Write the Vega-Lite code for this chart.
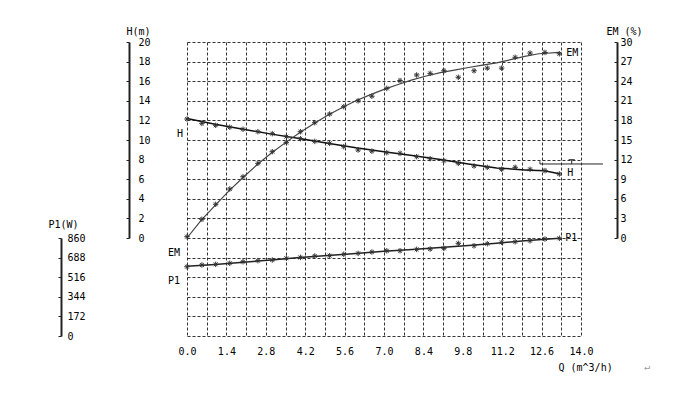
{
  "$schema": "https://vega.github.io/schema/vega-lite/v6.json",
  "width": 394,
  "height": 294,
  "autosize": "none",
  "padding": {"left": 187, "top": 42, "right": 94, "bottom": 68},
  "background": "white",
  "config": {
    "view": {"stroke": null},
    "font": "DejaVu Sans Mono",
    "axis": {"labelFont": "DejaVu Sans Mono", "labelFontSize": 10, "labelColor": "#000", "titleFont": "DejaVu Sans Mono", "titleFontSize": 10, "titleFontWeight": "normal", "titleColor": "#000"},
    "text": {"font": "DejaVu Sans Mono", "fontSize": 10}
  },
  "encoding": {
    "x": {"field": "Q", "type": "quantitative", "scale": {"domain": [0, 14], "nice": false, "zero": false},
      "axis": {"values": [0, 0.7, 1.4, 2.1, 2.8, 3.5, 4.2, 4.9, 5.6, 6.3, 7, 7.7, 8.4, 9.1, 9.8, 10.5, 11.2, 11.9, 12.6, 13.3, 14],
        "grid": true, "gridDash": [3, 2], "gridColor": "#333", "gridWidth": 1, "domain": false, "ticks": false,
        "labelExpr": "round(datum.value*10) % 14 == 0 ? format(datum.value, '.1f') : ''",
        "labelFlush": false, "labelOverlap": false, "labelPadding": 10,
        "title": "Q (m^3/h)", "titleX": 371, "titleY": 34, "titleAlign": "left", "titleBaseline": "alphabetic"}}
  },
  "resolve": {"scale": {"y": "independent"}, "axis": {"y": "independent"}},
  "layer": [
    {
      "data": {"values": [{"Q": 0, "g": 0}]},
      "mark": {"type": "point", "opacity": 0},
      "encoding": {
        "y": {"field": "g", "type": "quantitative", "scale": {"domain": [-10, 20], "nice": false, "zero": false},
          "axis": {"orient": "left", "values": [-10, -8, -6, -4, -2, 0, 2, 4, 6, 8, 10, 12, 14, 16, 18, 20],
            "grid": true, "gridDash": [3, 2], "gridColor": "#333", "gridWidth": 1, "domain": false, "ticks": false, "labels": false, "title": null}}
      }
    },
    {
      "encoding": {
        "y": {"field": "H", "type": "quantitative", "scale": {"domain": [0, 20], "range": [196, 0], "nice": false, "zero": false},
          "axis": {"orient": "left", "offset": 58, "values": [0, 2, 4, 6, 8, 10, 12, 14, 16, 18, 20], "grid": false,
            "domainColor": "#222", "domainWidth": 2, "tickColor": "#222", "tickSize": 3, "tickWidth": 1,
            "labelAlign": "left", "labelPadding": -12, "labelBaseline": "middle",
            "title": "H(m)", "titleAngle": 0, "titleX": -3, "titleY": -8, "titleAlign": "left", "titleBaseline": "alphabetic"}}
      },
      "layer": [
        {
          "data": {"values": [
            {"Q": 0, "H": 12.2}, {"Q": 1, "H": 11.6}, {"Q": 2, "H": 11.1}, {"Q": 3, "H": 10.6}, {"Q": 4, "H": 10.15},
            {"Q": 5, "H": 9.68}, {"Q": 6, "H": 9.2}, {"Q": 7, "H": 8.8}, {"Q": 8, "H": 8.42}, {"Q": 9, "H": 8.0},
            {"Q": 10, "H": 7.55}, {"Q": 11, "H": 7.15}, {"Q": 12, "H": 6.95}, {"Q": 12.7, "H": 6.85}, {"Q": 13.23, "H": 6.55}
          ]},
          "mark": {"type": "line", "color": "#111", "strokeWidth": 1.5}
        },
        {
          "data": {"values": [
            {"Q": 0, "H": 12.14}, {"Q": 0.53, "H": 11.7}, {"Q": 1.02, "H": 11.5}, {"Q": 1.52, "H": 11.3}, {"Q": 1.99, "H": 11.09},
            {"Q": 2.52, "H": 10.85}, {"Q": 3.03, "H": 10.65}, {"Q": 3.53, "H": 10.34}, {"Q": 4.03, "H": 10.13}, {"Q": 4.54, "H": 9.86},
            {"Q": 5.07, "H": 9.66}, {"Q": 5.57, "H": 9.32}, {"Q": 6.08, "H": 8.98}, {"Q": 6.57, "H": 8.86}, {"Q": 7.1, "H": 8.71},
            {"Q": 7.57, "H": 8.64}, {"Q": 8.16, "H": 8.3}, {"Q": 8.64, "H": 8.09}, {"Q": 9.13, "H": 7.89}, {"Q": 9.64, "H": 7.62},
            {"Q": 10.2, "H": 7.35}, {"Q": 10.67, "H": 7.21}, {"Q": 11.18, "H": 7.01}, {"Q": 11.66, "H": 7.21}, {"Q": 12.19, "H": 7.01},
            {"Q": 12.72, "H": 6.87}, {"Q": 13.23, "H": 6.53}
          ]},
          "mark": {"type": "point", "shape": "M-1,0L1,0M0,-1L0,1M-0.7,-0.7L0.7,0.7M-0.7,0.7L0.7,-0.7", "filled": false, "size": 30, "color": "#333", "strokeWidth": 1, "opacity": 1}
        },
        {
          "data": {"values": [{"Q": 13.23, "H": 6.63, "t": "H"}]},
          "mark": {"type": "text", "align": "left", "baseline": "middle", "dx": 8, "fill": "#000", "color": "#000"},
          "encoding": {"text": {"field": "t"}}
        },
        {
          "data": {"values": [{"Q": 0, "H": 10.6, "t": "H"}]},
          "mark": {"type": "text", "align": "right", "baseline": "middle", "dx": -4, "fill": "#000", "color": "#000"},
          "encoding": {"text": {"field": "t"}}
        }
      ]
    },
    {
      "encoding": {
        "y": {"field": "EM", "type": "quantitative", "scale": {"domain": [0, 30], "range": [196, 0], "nice": false, "zero": false},
          "axis": {"orient": "left", "offset": -430, "values": [0, 3, 6, 9, 12, 15, 18, 21, 24, 27, 30], "grid": false,
            "domainColor": "#222", "domainWidth": 2, "tickColor": "#222", "tickSize": 3, "tickWidth": 1,
            "labelAlign": "left", "labelPadding": -6, "labelBaseline": "middle",
            "title": "EM  (%)", "titleAngle": 0, "titleX": -11, "titleY": -8, "titleAlign": "left", "titleBaseline": "alphabetic"}}
      },
      "layer": [
        {
          "data": {"values": [
            {"Q": 0, "EM": 0}, {"Q": 0.5, "EM": 2.7}, {"Q": 1, "EM": 5.0}, {"Q": 1.5, "EM": 7.25}, {"Q": 2, "EM": 9.3},
            {"Q": 2.5, "EM": 11.25}, {"Q": 3, "EM": 13.0}, {"Q": 3.5, "EM": 14.6}, {"Q": 4, "EM": 16.1}, {"Q": 4.5, "EM": 17.5},
            {"Q": 5, "EM": 18.8}, {"Q": 5.5, "EM": 19.95}, {"Q": 6, "EM": 21.0}, {"Q": 6.5, "EM": 21.9}, {"Q": 7, "EM": 22.75},
            {"Q": 7.5, "EM": 23.5}, {"Q": 8, "EM": 24.2}, {"Q": 8.5, "EM": 24.8}, {"Q": 9, "EM": 25.3}, {"Q": 9.5, "EM": 25.7},
            {"Q": 10, "EM": 26.1}, {"Q": 10.5, "EM": 26.45}, {"Q": 11, "EM": 26.8}, {"Q": 11.5, "EM": 27.3}, {"Q": 12, "EM": 27.8},
            {"Q": 12.5, "EM": 28.2}, {"Q": 13.23, "EM": 28.4}
          ]},
          "mark": {"type": "line", "color": "#444", "strokeWidth": 1.2}
        },
        {
          "data": {"values": [
            {"Q": 0, "EM": 0.2}, {"Q": 0.53, "EM": 2.86}, {"Q": 1.02, "EM": 5.16}, {"Q": 1.52, "EM": 7.5}, {"Q": 1.99, "EM": 9.38},
            {"Q": 2.52, "EM": 11.43}, {"Q": 3.03, "EM": 13.21}, {"Q": 3.53, "EM": 14.59}, {"Q": 4.03, "EM": 16.27}, {"Q": 4.54, "EM": 17.65},
            {"Q": 5.07, "EM": 18.98}, {"Q": 5.57, "EM": 20.1}, {"Q": 6.08, "EM": 21.0}, {"Q": 6.57, "EM": 21.7}, {"Q": 7.1, "EM": 22.9},
            {"Q": 7.57, "EM": 24.1}, {"Q": 8.16, "EM": 24.95}, {"Q": 8.64, "EM": 25.2}, {"Q": 9.13, "EM": 25.6}, {"Q": 9.64, "EM": 24.6},
            {"Q": 10.2, "EM": 25.6}, {"Q": 10.67, "EM": 26.0}, {"Q": 11.18, "EM": 26.0}, {"Q": 11.66, "EM": 27.66}, {"Q": 12.19, "EM": 28.3},
            {"Q": 12.72, "EM": 28.4}, {"Q": 13.23, "EM": 28.2}
          ]},
          "mark": {"type": "point", "shape": "M-1,0L1,0M0,-1L0,1M-0.7,-0.7L0.7,0.7M-0.7,0.7L0.7,-0.7", "filled": false, "size": 30, "color": "#333", "strokeWidth": 1, "opacity": 1}
        },
        {
          "data": {"values": [{"Q": 13.23, "EM": 28.3, "t": "EM"}]},
          "mark": {"type": "text", "align": "left", "baseline": "middle", "dx": 7, "fill": "#000", "color": "#000"},
          "encoding": {"text": {"field": "t"}}
        },
        {
          "data": {"values": [
            {"Q": 12.54, "Q2": 14.78, "EM": 11.33, "EM2": 11.33},
            {"Q": 13.67, "Q2": 13.67, "EM": 11.33, "EM2": 11.98},
            {"Q": 13.56, "Q2": 13.78, "EM": 11.98, "EM2": 11.98},
            {"Q": 12.54, "Q2": 12.54, "EM": 11.33, "EM2": 11.75}
          ]},
          "mark": {"type": "rule", "color": "#222", "strokeWidth": 1},
          "encoding": {"x2": {"field": "Q2"}, "y2": {"field": "EM2"}}
        }
      ]
    },
    {
      "encoding": {
        "y": {"field": "P1", "type": "quantitative", "scale": {"domain": [0, 860], "range": [294, 196], "nice": false, "zero": false},
          "axis": {"orient": "left", "offset": 126, "values": [0, 172, 344, 516, 688, 860], "grid": false,
            "domainColor": "#222", "domainWidth": 2, "tickColor": "#222", "tickSize": 3, "tickWidth": 1,
            "labelAlign": "left", "labelPadding": -9, "labelBaseline": "middle",
            "title": "P1(W)", "titleAngle": 0, "titleX": -13, "titleY": 185, "titleAlign": "left", "titleBaseline": "alphabetic"}}
      },
      "layer": [
        {
          "data": {"values": [
            {"Q": 0, "P1": 612}, {"Q": 1, "P1": 628}, {"Q": 2, "P1": 648}, {"Q": 3, "P1": 667}, {"Q": 4, "P1": 688},
            {"Q": 5, "P1": 706}, {"Q": 6, "P1": 724}, {"Q": 7, "P1": 744}, {"Q": 8, "P1": 760}, {"Q": 9, "P1": 776},
            {"Q": 10, "P1": 795}, {"Q": 11, "P1": 815}, {"Q": 12, "P1": 835}, {"Q": 13.23, "P1": 857}
          ]},
          "mark": {"type": "line", "color": "#222", "strokeWidth": 1.5}
        },
        {
          "data": {"values": [
            {"Q": 0, "P1": 608}, {"Q": 0.53, "P1": 623}, {"Q": 1.02, "P1": 629}, {"Q": 1.52, "P1": 638}, {"Q": 1.99, "P1": 652},
            {"Q": 2.52, "P1": 661}, {"Q": 3.03, "P1": 667}, {"Q": 3.53, "P1": 682}, {"Q": 4.03, "P1": 690}, {"Q": 4.54, "P1": 702},
            {"Q": 5.07, "P1": 705}, {"Q": 5.57, "P1": 717}, {"Q": 6.08, "P1": 725}, {"Q": 6.57, "P1": 737}, {"Q": 7.1, "P1": 748},
            {"Q": 7.57, "P1": 748}, {"Q": 8.16, "P1": 760}, {"Q": 8.64, "P1": 763}, {"Q": 9.13, "P1": 769}, {"Q": 9.64, "P1": 813},
            {"Q": 10.2, "P1": 792}, {"Q": 10.67, "P1": 810}, {"Q": 11.18, "P1": 822}, {"Q": 11.66, "P1": 827}, {"Q": 12.19, "P1": 836},
            {"Q": 12.72, "P1": 851}, {"Q": 13.23, "P1": 857}
          ]},
          "mark": {"type": "point", "shape": "M-1,0L1,0M0,-1L0,1M-0.7,-0.7L0.7,0.7M-0.7,0.7L0.7,-0.7", "filled": false, "size": 30, "color": "#333", "strokeWidth": 1, "opacity": 1}
        },
        {
          "data": {"values": [{"Q": 13.23, "P1": 857, "t": "P1"}]},
          "mark": {"type": "text", "align": "left", "baseline": "middle", "dx": 6, "fill": "#000", "color": "#000"},
          "encoding": {"text": {"field": "t"}}
        },
        {
          "data": {"values": [{"Q": 0, "P1": 728, "t": "EM"}, {"Q": 0, "P1": 482, "t": "P1"}]},
          "mark": {"type": "text", "align": "right", "baseline": "middle", "dx": -7, "fill": "#000", "color": "#000"},
          "encoding": {"text": {"field": "t"}}
        },
        {
          "data": {"values": [{"Q": 16.35, "P1": -272, "t": "↵"}]},
          "mark": {"type": "text", "align": "center", "baseline": "middle", "fill": "#999", "color": "#999", "fontSize": 10},
          "encoding": {"text": {"field": "t"}}
        }
      ]
    }
  ]
}
